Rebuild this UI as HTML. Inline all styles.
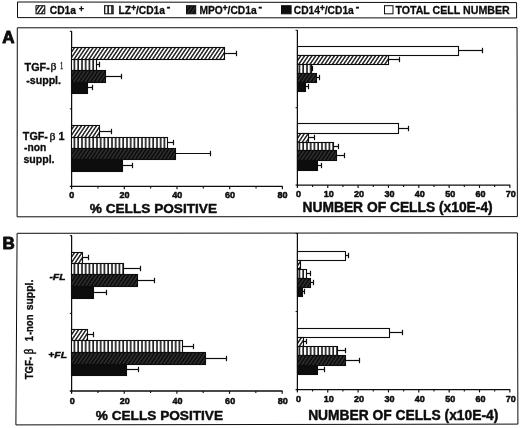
<!DOCTYPE html>
<html><head><meta charset="utf-8"><title>Figure</title>
<style>html,body{margin:0;padding:0;background:#fff}svg{display:block}</style>
</head><body>
<svg width="520" height="428" viewBox="0 0 520 428">
<defs>
<pattern id="hl" width="3.1" height="3.1" patternUnits="userSpaceOnUse" patternTransform="rotate(-56)"><rect width="3.1" height="3.1" fill="#fff"/><line x1="0" y1="1.55" x2="3.1" y2="1.55" stroke="#1c1c1c" stroke-width="1.45"/></pattern>
<pattern id="hd" width="3.1" height="3.1" patternUnits="userSpaceOnUse" patternTransform="rotate(-56)"><rect width="3.1" height="3.1" fill="#0d0d0d"/><line x1="0" y1="1.55" x2="3.1" y2="1.55" stroke="#6e6e6e" stroke-width="0.5"/></pattern>
<pattern id="vs" width="3.75" height="4" patternUnits="userSpaceOnUse" x="0.3"><rect width="3.75" height="4" fill="#fff"/><line x1="2.9" y1="0" x2="2.9" y2="4" stroke="#0a0a0a" stroke-width="1.55"/></pattern>
</defs>
<rect width="520" height="428" fill="#fff"/>
<polygon points="17.50,2.00 516.60,2.60 516.60,18.00 17.50,17.60" fill="none" stroke="#0d0d0d" stroke-width="1.0"/>
<rect x="36.00" y="5.70" width="8.80" height="8.10" fill="url(#hl)" stroke="#0d0d0d" stroke-width="1.0"/>
<text transform="translate(49.8,13.6) scale(0.95,1.0)" font-size="10.8" text-anchor="start" font-weight="bold" font-style="normal" font-family='"Liberation Sans", Arial, Helvetica, sans-serif' fill="#0d0d0d" stroke="#0d0d0d" stroke-width="0.3" stroke-linejoin="round" >CD1a<tspan dy="-1.9" dx="3.0" font-size="9.6">+</tspan></text>
<rect x="104.60" y="5.70" width="8.60" height="8.10" fill="url(#vs)" stroke="#0d0d0d" stroke-width="1.0"/>
<text transform="translate(118.6,13.6) scale(0.95,1.0)" font-size="10.8" text-anchor="start" font-weight="bold" font-style="normal" font-family='"Liberation Sans", Arial, Helvetica, sans-serif' fill="#0d0d0d" stroke="#0d0d0d" stroke-width="0.3" stroke-linejoin="round" >LZ<tspan dy="-3.0" font-size="8.6" stroke-width="0.5">+</tspan><tspan dy="3.0">/CD1a</tspan><tspan dy="-3.6" dx="2.0" font-size="11" stroke-width="0.5">-</tspan></text>
<rect x="186.50" y="5.70" width="9.20" height="8.10" fill="url(#hd)" stroke="#0d0d0d" stroke-width="1.0"/>
<text transform="translate(199.5,13.6) scale(0.95,1.0)" font-size="10.8" text-anchor="start" font-weight="bold" font-style="normal" font-family='"Liberation Sans", Arial, Helvetica, sans-serif' fill="#0d0d0d" stroke="#0d0d0d" stroke-width="0.3" stroke-linejoin="round" >MPO<tspan dy="-3.0" font-size="8.6" stroke-width="0.5">+</tspan><tspan dy="3.0">/CD1a</tspan><tspan dy="-3.6" dx="2.0" font-size="11" stroke-width="0.5">-</tspan></text>
<rect x="281.50" y="5.70" width="9.60" height="8.10" fill="#0d0d0d" stroke="#0d0d0d" stroke-width="1.0"/>
<text transform="translate(293.8,13.6) scale(0.95,1.0)" font-size="10.8" text-anchor="start" font-weight="bold" font-style="normal" font-family='"Liberation Sans", Arial, Helvetica, sans-serif' fill="#0d0d0d" stroke="#0d0d0d" stroke-width="0.3" stroke-linejoin="round" >CD14<tspan dy="-3.0" font-size="8.6" stroke-width="0.5">+</tspan><tspan dy="3.0">/CD1a</tspan><tspan dy="-3.6" dx="2.0" font-size="11" stroke-width="0.5">-</tspan></text>
<rect x="384.50" y="5.70" width="8.50" height="8.10" fill="#fff" stroke="#0d0d0d" stroke-width="1.0"/>
<text transform="translate(395.4,13.6) scale(0.985,1.0)" font-size="10.8" text-anchor="start" font-weight="bold" font-style="normal" font-family='"Liberation Sans", Arial, Helvetica, sans-serif' fill="#0d0d0d" stroke="#0d0d0d" stroke-width="0.3" stroke-linejoin="round" >TOTAL CELL NUMBER</text>
<polygon points="17.30,27.80 517.00,27.60 517.40,216.60 17.10,216.80" fill="none" stroke="#0d0d0d" stroke-width="1.0"/>
<text transform="translate(8.4,42.8) scale(1.0,1.0)" font-size="17" text-anchor="middle" font-weight="bold" font-style="normal" font-family='"Liberation Sans", Arial, Helvetica, sans-serif' fill="#0d0d0d" stroke="#0d0d0d" stroke-width="0.9" stroke-linejoin="round" >A</text>
<line x1="71.60" y1="31.30" x2="71.60" y2="189.20" stroke="#0d0d0d" stroke-width="1.25"/>
<line x1="69.80" y1="186.40" x2="282.80" y2="186.40" stroke="#0d0d0d" stroke-width="1.3"/>
<text transform="translate(71.8,198.4) scale(1.0,1.0)" font-size="9.0" text-anchor="middle" font-weight="bold" font-style="normal" font-family='"Liberation Sans", Arial, Helvetica, sans-serif' fill="#0d0d0d" stroke="#0d0d0d" stroke-width="0.5" stroke-linejoin="round" >0</text>
<line x1="97.95" y1="186.40" x2="97.95" y2="188.40" stroke="#0d0d0d" stroke-width="1.1"/>
<line x1="124.30" y1="186.40" x2="124.30" y2="189.20" stroke="#0d0d0d" stroke-width="1.15"/>
<text transform="translate(124.49999999999999,198.4) scale(1.0,1.0)" font-size="9.0" text-anchor="middle" font-weight="bold" font-style="normal" font-family='"Liberation Sans", Arial, Helvetica, sans-serif' fill="#0d0d0d" stroke="#0d0d0d" stroke-width="0.5" stroke-linejoin="round" >20</text>
<line x1="150.65" y1="186.40" x2="150.65" y2="188.40" stroke="#0d0d0d" stroke-width="1.1"/>
<line x1="177.00" y1="186.40" x2="177.00" y2="189.20" stroke="#0d0d0d" stroke-width="1.15"/>
<text transform="translate(177.2,198.4) scale(1.0,1.0)" font-size="9.0" text-anchor="middle" font-weight="bold" font-style="normal" font-family='"Liberation Sans", Arial, Helvetica, sans-serif' fill="#0d0d0d" stroke="#0d0d0d" stroke-width="0.5" stroke-linejoin="round" >40</text>
<line x1="203.35" y1="186.40" x2="203.35" y2="188.40" stroke="#0d0d0d" stroke-width="1.1"/>
<line x1="229.70" y1="186.40" x2="229.70" y2="189.20" stroke="#0d0d0d" stroke-width="1.15"/>
<text transform="translate(229.89999999999998,198.4) scale(1.0,1.0)" font-size="9.0" text-anchor="middle" font-weight="bold" font-style="normal" font-family='"Liberation Sans", Arial, Helvetica, sans-serif' fill="#0d0d0d" stroke="#0d0d0d" stroke-width="0.5" stroke-linejoin="round" >60</text>
<line x1="256.05" y1="186.40" x2="256.05" y2="188.40" stroke="#0d0d0d" stroke-width="1.1"/>
<line x1="282.40" y1="186.40" x2="282.40" y2="189.20" stroke="#0d0d0d" stroke-width="1.15"/>
<text transform="translate(282.59999999999997,198.4) scale(1.0,1.0)" font-size="9.0" text-anchor="middle" font-weight="bold" font-style="normal" font-family='"Liberation Sans", Arial, Helvetica, sans-serif' fill="#0d0d0d" stroke="#0d0d0d" stroke-width="0.5" stroke-linejoin="round" >80</text>
<line x1="69.80" y1="108.85" x2="71.60" y2="108.85" stroke="#0d0d0d" stroke-width="1.0"/>
<line x1="69.80" y1="31.30" x2="72.00" y2="31.30" stroke="#0d0d0d" stroke-width="1.0"/>
<rect x="71.50" y="47.50" width="153.00" height="12.00" fill="url(#hl)" stroke="#0d0d0d" stroke-width="1.1"/>
<line x1="224.50" y1="53.50" x2="236.50" y2="53.50" stroke="#0d0d0d" stroke-width="1.2"/>
<line x1="236.50" y1="50.80" x2="236.50" y2="56.20" stroke="#0d0d0d" stroke-width="1.2"/>
<rect x="71.50" y="59.50" width="25.00" height="11.00" fill="url(#vs)" stroke="#0d0d0d" stroke-width="1.1"/>
<line x1="96.50" y1="64.50" x2="99.50" y2="64.50" stroke="#0d0d0d" stroke-width="1.2"/>
<line x1="99.50" y1="61.80" x2="99.50" y2="67.20" stroke="#0d0d0d" stroke-width="1.2"/>
<rect x="71.50" y="70.50" width="34.00" height="12.00" fill="url(#hd)" stroke="#0d0d0d" stroke-width="1.1"/>
<line x1="105.50" y1="76.50" x2="121.50" y2="76.50" stroke="#0d0d0d" stroke-width="1.2"/>
<line x1="121.50" y1="73.80" x2="121.50" y2="79.20" stroke="#0d0d0d" stroke-width="1.2"/>
<rect x="71.50" y="82.50" width="16.00" height="11.00" fill="#0d0d0d" stroke="#0d0d0d" stroke-width="1.1"/>
<line x1="87.50" y1="87.50" x2="92.50" y2="87.50" stroke="#0d0d0d" stroke-width="1.2"/>
<line x1="92.50" y1="84.80" x2="92.50" y2="90.20" stroke="#0d0d0d" stroke-width="1.2"/>
<rect x="71.50" y="125.50" width="28.00" height="12.00" fill="url(#hl)" stroke="#0d0d0d" stroke-width="1.1"/>
<line x1="99.50" y1="131.50" x2="111.50" y2="131.50" stroke="#0d0d0d" stroke-width="1.2"/>
<line x1="111.50" y1="128.80" x2="111.50" y2="134.20" stroke="#0d0d0d" stroke-width="1.2"/>
<rect x="71.50" y="137.50" width="96.00" height="11.00" fill="url(#vs)" stroke="#0d0d0d" stroke-width="1.1"/>
<line x1="167.50" y1="142.50" x2="173.50" y2="142.50" stroke="#0d0d0d" stroke-width="1.2"/>
<line x1="173.50" y1="139.80" x2="173.50" y2="145.20" stroke="#0d0d0d" stroke-width="1.2"/>
<rect x="71.50" y="148.50" width="104.00" height="11.00" fill="url(#hd)" stroke="#0d0d0d" stroke-width="1.1"/>
<line x1="175.50" y1="153.50" x2="210.50" y2="153.50" stroke="#0d0d0d" stroke-width="1.2"/>
<line x1="210.50" y1="150.80" x2="210.50" y2="156.20" stroke="#0d0d0d" stroke-width="1.2"/>
<rect x="71.50" y="159.50" width="51.00" height="12.00" fill="#0d0d0d" stroke="#0d0d0d" stroke-width="1.1"/>
<line x1="122.50" y1="165.50" x2="132.50" y2="165.50" stroke="#0d0d0d" stroke-width="1.2"/>
<line x1="132.50" y1="162.80" x2="132.50" y2="168.20" stroke="#0d0d0d" stroke-width="1.2"/>
<text transform="translate(153.4,212.6) scale(1.0,1.0)" font-size="13.65" text-anchor="middle" font-weight="bold" font-style="normal" font-family='"Liberation Sans", Arial, Helvetica, sans-serif' fill="#0d0d0d" stroke="#0d0d0d" stroke-width="0.45" stroke-linejoin="round" >% CELLS POSITIVE</text>
<line x1="297.40" y1="30.30" x2="297.40" y2="187.90" stroke="#0d0d0d" stroke-width="1.25"/>
<line x1="295.60" y1="185.10" x2="510.25" y2="185.10" stroke="#0d0d0d" stroke-width="1.3"/>
<text transform="translate(298.4,196.79999999999998) scale(1.0,1.0)" font-size="9.0" text-anchor="middle" font-weight="bold" font-style="normal" font-family='"Liberation Sans", Arial, Helvetica, sans-serif' fill="#0d0d0d" stroke="#0d0d0d" stroke-width="0.5" stroke-linejoin="round" >0</text>
<line x1="312.57" y1="185.10" x2="312.57" y2="187.10" stroke="#0d0d0d" stroke-width="1.1"/>
<line x1="327.75" y1="185.10" x2="327.75" y2="187.90" stroke="#0d0d0d" stroke-width="1.15"/>
<text transform="translate(328.75,196.79999999999998) scale(1.0,1.0)" font-size="9.0" text-anchor="middle" font-weight="bold" font-style="normal" font-family='"Liberation Sans", Arial, Helvetica, sans-serif' fill="#0d0d0d" stroke="#0d0d0d" stroke-width="0.5" stroke-linejoin="round" >10</text>
<line x1="342.92" y1="185.10" x2="342.92" y2="187.10" stroke="#0d0d0d" stroke-width="1.1"/>
<line x1="358.10" y1="185.10" x2="358.10" y2="187.90" stroke="#0d0d0d" stroke-width="1.15"/>
<text transform="translate(359.09999999999997,196.79999999999998) scale(1.0,1.0)" font-size="9.0" text-anchor="middle" font-weight="bold" font-style="normal" font-family='"Liberation Sans", Arial, Helvetica, sans-serif' fill="#0d0d0d" stroke="#0d0d0d" stroke-width="0.5" stroke-linejoin="round" >20</text>
<line x1="373.27" y1="185.10" x2="373.27" y2="187.10" stroke="#0d0d0d" stroke-width="1.1"/>
<line x1="388.45" y1="185.10" x2="388.45" y2="187.90" stroke="#0d0d0d" stroke-width="1.15"/>
<text transform="translate(389.45,196.79999999999998) scale(1.0,1.0)" font-size="9.0" text-anchor="middle" font-weight="bold" font-style="normal" font-family='"Liberation Sans", Arial, Helvetica, sans-serif' fill="#0d0d0d" stroke="#0d0d0d" stroke-width="0.5" stroke-linejoin="round" >30</text>
<line x1="403.62" y1="185.10" x2="403.62" y2="187.10" stroke="#0d0d0d" stroke-width="1.1"/>
<line x1="418.80" y1="185.10" x2="418.80" y2="187.90" stroke="#0d0d0d" stroke-width="1.15"/>
<text transform="translate(419.79999999999995,196.79999999999998) scale(1.0,1.0)" font-size="9.0" text-anchor="middle" font-weight="bold" font-style="normal" font-family='"Liberation Sans", Arial, Helvetica, sans-serif' fill="#0d0d0d" stroke="#0d0d0d" stroke-width="0.5" stroke-linejoin="round" >40</text>
<line x1="433.98" y1="185.10" x2="433.98" y2="187.10" stroke="#0d0d0d" stroke-width="1.1"/>
<line x1="449.15" y1="185.10" x2="449.15" y2="187.90" stroke="#0d0d0d" stroke-width="1.15"/>
<text transform="translate(450.15,196.79999999999998) scale(1.0,1.0)" font-size="9.0" text-anchor="middle" font-weight="bold" font-style="normal" font-family='"Liberation Sans", Arial, Helvetica, sans-serif' fill="#0d0d0d" stroke="#0d0d0d" stroke-width="0.5" stroke-linejoin="round" >50</text>
<line x1="464.32" y1="185.10" x2="464.32" y2="187.10" stroke="#0d0d0d" stroke-width="1.1"/>
<line x1="479.50" y1="185.10" x2="479.50" y2="187.90" stroke="#0d0d0d" stroke-width="1.15"/>
<text transform="translate(480.5,196.79999999999998) scale(1.0,1.0)" font-size="9.0" text-anchor="middle" font-weight="bold" font-style="normal" font-family='"Liberation Sans", Arial, Helvetica, sans-serif' fill="#0d0d0d" stroke="#0d0d0d" stroke-width="0.5" stroke-linejoin="round" >60</text>
<line x1="494.67" y1="185.10" x2="494.67" y2="187.10" stroke="#0d0d0d" stroke-width="1.1"/>
<line x1="509.85" y1="185.10" x2="509.85" y2="187.90" stroke="#0d0d0d" stroke-width="1.15"/>
<text transform="translate(510.85,196.79999999999998) scale(1.0,1.0)" font-size="9.0" text-anchor="middle" font-weight="bold" font-style="normal" font-family='"Liberation Sans", Arial, Helvetica, sans-serif' fill="#0d0d0d" stroke="#0d0d0d" stroke-width="0.5" stroke-linejoin="round" >70</text>
<line x1="295.60" y1="107.70" x2="297.40" y2="107.70" stroke="#0d0d0d" stroke-width="1.0"/>
<line x1="295.60" y1="30.30" x2="297.80" y2="30.30" stroke="#0d0d0d" stroke-width="1.0"/>
<rect x="297.50" y="46.50" width="161.00" height="9.00" fill="#fff" stroke="#0d0d0d" stroke-width="1.1"/>
<line x1="458.50" y1="50.50" x2="482.50" y2="50.50" stroke="#0d0d0d" stroke-width="1.2"/>
<line x1="482.50" y1="47.80" x2="482.50" y2="53.20" stroke="#0d0d0d" stroke-width="1.2"/>
<rect x="297.50" y="55.50" width="91.00" height="9.00" fill="url(#hl)" stroke="#0d0d0d" stroke-width="1.1"/>
<line x1="388.50" y1="59.50" x2="399.50" y2="59.50" stroke="#0d0d0d" stroke-width="1.2"/>
<line x1="399.50" y1="56.80" x2="399.50" y2="62.20" stroke="#0d0d0d" stroke-width="1.2"/>
<rect x="297.50" y="64.50" width="14.00" height="9.00" fill="url(#vs)" stroke="#0d0d0d" stroke-width="1.1"/>
<line x1="311.50" y1="68.50" x2="312.50" y2="68.50" stroke="#0d0d0d" stroke-width="1.2"/>
<line x1="312.50" y1="65.80" x2="312.50" y2="71.20" stroke="#0d0d0d" stroke-width="1.2"/>
<rect x="297.50" y="73.50" width="19.00" height="9.00" fill="url(#hd)" stroke="#0d0d0d" stroke-width="1.1"/>
<line x1="316.50" y1="77.50" x2="319.50" y2="77.50" stroke="#0d0d0d" stroke-width="1.2"/>
<line x1="319.50" y1="74.80" x2="319.50" y2="80.20" stroke="#0d0d0d" stroke-width="1.2"/>
<rect x="297.50" y="82.50" width="8.00" height="9.00" fill="#0d0d0d" stroke="#0d0d0d" stroke-width="1.1"/>
<line x1="305.50" y1="86.50" x2="308.50" y2="86.50" stroke="#0d0d0d" stroke-width="1.2"/>
<line x1="308.50" y1="83.80" x2="308.50" y2="89.20" stroke="#0d0d0d" stroke-width="1.2"/>
<rect x="297.50" y="123.50" width="101.00" height="10.00" fill="#fff" stroke="#0d0d0d" stroke-width="1.1"/>
<line x1="398.50" y1="128.50" x2="408.50" y2="128.50" stroke="#0d0d0d" stroke-width="1.2"/>
<line x1="408.50" y1="125.80" x2="408.50" y2="131.20" stroke="#0d0d0d" stroke-width="1.2"/>
<rect x="297.50" y="133.50" width="11.00" height="9.00" fill="url(#hl)" stroke="#0d0d0d" stroke-width="1.1"/>
<line x1="308.50" y1="137.50" x2="314.50" y2="137.50" stroke="#0d0d0d" stroke-width="1.2"/>
<line x1="314.50" y1="134.80" x2="314.50" y2="140.20" stroke="#0d0d0d" stroke-width="1.2"/>
<rect x="297.50" y="142.50" width="36.00" height="8.00" fill="url(#vs)" stroke="#0d0d0d" stroke-width="1.1"/>
<line x1="333.50" y1="146.50" x2="338.50" y2="146.50" stroke="#0d0d0d" stroke-width="1.2"/>
<line x1="338.50" y1="143.80" x2="338.50" y2="149.20" stroke="#0d0d0d" stroke-width="1.2"/>
<rect x="297.50" y="150.50" width="39.00" height="10.00" fill="url(#hd)" stroke="#0d0d0d" stroke-width="1.1"/>
<line x1="336.50" y1="155.50" x2="344.50" y2="155.50" stroke="#0d0d0d" stroke-width="1.2"/>
<line x1="344.50" y1="152.80" x2="344.50" y2="158.20" stroke="#0d0d0d" stroke-width="1.2"/>
<rect x="297.50" y="160.50" width="20.00" height="10.00" fill="#0d0d0d" stroke="#0d0d0d" stroke-width="1.1"/>
<line x1="317.50" y1="165.50" x2="321.50" y2="165.50" stroke="#0d0d0d" stroke-width="1.2"/>
<line x1="321.50" y1="162.80" x2="321.50" y2="168.20" stroke="#0d0d0d" stroke-width="1.2"/>
<text transform="translate(397.6,212.4) scale(1.0,1.0)" font-size="13.8" text-anchor="middle" font-weight="bold" font-style="normal" font-family='"Liberation Sans", Arial, Helvetica, sans-serif' fill="#0d0d0d" stroke="#0d0d0d" stroke-width="0.45" stroke-linejoin="round" >NUMBER OF CELLS (x10E-4)</text>
<text transform="translate(24.6,70.8) scale(1.08,1.0)" font-size="10.0" text-anchor="start" font-weight="bold" font-style="normal" font-family='"Liberation Sans", Arial, Helvetica, sans-serif' fill="#0d0d0d" stroke="#0d0d0d" stroke-width="0.3" stroke-linejoin="round" >TGF-</text>
<text transform="translate(50.4,70.3) scale(1.2,1.0)" font-size="9.8" text-anchor="start" font-weight="normal" font-style="normal" font-family='"Liberation Serif", "DejaVu Serif", serif' fill="#0d0d0d" stroke="#0d0d0d" stroke-width="0.3" stroke-linejoin="round" >β</text>
<text transform="translate(60.3,68.8) scale(0.55,1.0)" font-size="10.2" text-anchor="start" font-weight="normal" font-style="normal" font-family='"Liberation Serif", "DejaVu Serif", serif' fill="#0d0d0d" stroke="#0d0d0d" stroke-width="0.45" stroke-linejoin="round" >1</text>
<text transform="translate(26.2,83.8) scale(1.0638,1.0)" font-size="10.0" text-anchor="start" font-weight="bold" font-style="normal" font-family='"Liberation Sans", Arial, Helvetica, sans-serif' fill="#0d0d0d" stroke="#0d0d0d" stroke-width="0.3" stroke-linejoin="round" >-suppl.</text>
<text transform="translate(22.8,140.3) scale(1.08,1.0)" font-size="10.0" text-anchor="start" font-weight="bold" font-style="normal" font-family='"Liberation Sans", Arial, Helvetica, sans-serif' fill="#0d0d0d" stroke="#0d0d0d" stroke-width="0.3" stroke-linejoin="round" >TGF-</text>
<text transform="translate(49.6,139.8) scale(1.2,1.0)" font-size="9.8" text-anchor="start" font-weight="normal" font-style="normal" font-family='"Liberation Serif", "DejaVu Serif", serif' fill="#0d0d0d" stroke="#0d0d0d" stroke-width="0.3" stroke-linejoin="round" >β</text>
<text transform="translate(58.4,140.3) scale(1.05,1.0)" font-size="10.4" text-anchor="start" font-weight="bold" font-style="normal" font-family='"Liberation Sans", Arial, Helvetica, sans-serif' fill="#0d0d0d" stroke="#0d0d0d" stroke-width="0.3" stroke-linejoin="round" >1</text>
<text transform="translate(24,151) scale(1.026,1.0)" font-size="10.0" text-anchor="start" font-weight="bold" font-style="normal" font-family='"Liberation Sans", Arial, Helvetica, sans-serif' fill="#0d0d0d" stroke="#0d0d0d" stroke-width="0.3" stroke-linejoin="round" >-non</text>
<text transform="translate(23.4,163.3) scale(1.0584,1.0)" font-size="10.0" text-anchor="start" font-weight="bold" font-style="normal" font-family='"Liberation Sans", Arial, Helvetica, sans-serif' fill="#0d0d0d" stroke="#0d0d0d" stroke-width="0.3" stroke-linejoin="round" >suppl.</text>
<polygon points="17.10,233.30 517.40,232.90 517.90,424.10 15.90,424.90" fill="none" stroke="#0d0d0d" stroke-width="1.0"/>
<text transform="translate(8.6,248.7) scale(1.0,1.0)" font-size="17" text-anchor="middle" font-weight="bold" font-style="normal" font-family='"Liberation Sans", Arial, Helvetica, sans-serif' fill="#0d0d0d" stroke="#0d0d0d" stroke-width="0.9" stroke-linejoin="round" >B</text>
<line x1="71.60" y1="235.70" x2="71.60" y2="393.80" stroke="#0d0d0d" stroke-width="1.25"/>
<line x1="69.80" y1="391.00" x2="282.56" y2="391.00" stroke="#0d0d0d" stroke-width="1.3"/>
<text transform="translate(72.19999999999999,403.8) scale(1.0,1.0)" font-size="9.0" text-anchor="middle" font-weight="bold" font-style="normal" font-family='"Liberation Sans", Arial, Helvetica, sans-serif' fill="#0d0d0d" stroke="#0d0d0d" stroke-width="0.5" stroke-linejoin="round" >0</text>
<line x1="97.92" y1="391.00" x2="97.92" y2="393.00" stroke="#0d0d0d" stroke-width="1.1"/>
<line x1="124.24" y1="391.00" x2="124.24" y2="393.80" stroke="#0d0d0d" stroke-width="1.15"/>
<text transform="translate(124.83999999999999,403.8) scale(1.0,1.0)" font-size="9.0" text-anchor="middle" font-weight="bold" font-style="normal" font-family='"Liberation Sans", Arial, Helvetica, sans-serif' fill="#0d0d0d" stroke="#0d0d0d" stroke-width="0.5" stroke-linejoin="round" >20</text>
<line x1="150.56" y1="391.00" x2="150.56" y2="393.00" stroke="#0d0d0d" stroke-width="1.1"/>
<line x1="176.88" y1="391.00" x2="176.88" y2="393.80" stroke="#0d0d0d" stroke-width="1.15"/>
<text transform="translate(177.48,403.8) scale(1.0,1.0)" font-size="9.0" text-anchor="middle" font-weight="bold" font-style="normal" font-family='"Liberation Sans", Arial, Helvetica, sans-serif' fill="#0d0d0d" stroke="#0d0d0d" stroke-width="0.5" stroke-linejoin="round" >40</text>
<line x1="203.20" y1="391.00" x2="203.20" y2="393.00" stroke="#0d0d0d" stroke-width="1.1"/>
<line x1="229.52" y1="391.00" x2="229.52" y2="393.80" stroke="#0d0d0d" stroke-width="1.15"/>
<text transform="translate(230.12,403.8) scale(1.0,1.0)" font-size="9.0" text-anchor="middle" font-weight="bold" font-style="normal" font-family='"Liberation Sans", Arial, Helvetica, sans-serif' fill="#0d0d0d" stroke="#0d0d0d" stroke-width="0.5" stroke-linejoin="round" >60</text>
<line x1="255.84" y1="391.00" x2="255.84" y2="393.00" stroke="#0d0d0d" stroke-width="1.1"/>
<line x1="282.16" y1="391.00" x2="282.16" y2="393.80" stroke="#0d0d0d" stroke-width="1.15"/>
<text transform="translate(282.76,403.8) scale(1.0,1.0)" font-size="9.0" text-anchor="middle" font-weight="bold" font-style="normal" font-family='"Liberation Sans", Arial, Helvetica, sans-serif' fill="#0d0d0d" stroke="#0d0d0d" stroke-width="0.5" stroke-linejoin="round" >80</text>
<line x1="69.80" y1="313.35" x2="71.60" y2="313.35" stroke="#0d0d0d" stroke-width="1.0"/>
<line x1="69.80" y1="235.70" x2="72.00" y2="235.70" stroke="#0d0d0d" stroke-width="1.0"/>
<rect x="71.50" y="252.50" width="11.00" height="11.00" fill="url(#hl)" stroke="#0d0d0d" stroke-width="1.1"/>
<line x1="82.50" y1="257.50" x2="88.50" y2="257.50" stroke="#0d0d0d" stroke-width="1.2"/>
<line x1="88.50" y1="254.80" x2="88.50" y2="260.20" stroke="#0d0d0d" stroke-width="1.2"/>
<rect x="71.50" y="263.50" width="52.00" height="11.00" fill="url(#vs)" stroke="#0d0d0d" stroke-width="1.1"/>
<line x1="123.50" y1="268.50" x2="140.50" y2="268.50" stroke="#0d0d0d" stroke-width="1.2"/>
<line x1="140.50" y1="265.80" x2="140.50" y2="271.20" stroke="#0d0d0d" stroke-width="1.2"/>
<rect x="71.50" y="274.50" width="66.00" height="12.00" fill="url(#hd)" stroke="#0d0d0d" stroke-width="1.1"/>
<line x1="137.50" y1="280.50" x2="154.50" y2="280.50" stroke="#0d0d0d" stroke-width="1.2"/>
<line x1="154.50" y1="277.80" x2="154.50" y2="283.20" stroke="#0d0d0d" stroke-width="1.2"/>
<rect x="71.50" y="286.50" width="22.00" height="12.00" fill="#0d0d0d" stroke="#0d0d0d" stroke-width="1.1"/>
<line x1="93.50" y1="292.50" x2="106.50" y2="292.50" stroke="#0d0d0d" stroke-width="1.2"/>
<line x1="106.50" y1="289.80" x2="106.50" y2="295.20" stroke="#0d0d0d" stroke-width="1.2"/>
<rect x="71.50" y="329.50" width="16.00" height="11.00" fill="url(#hl)" stroke="#0d0d0d" stroke-width="1.1"/>
<line x1="87.50" y1="334.50" x2="93.50" y2="334.50" stroke="#0d0d0d" stroke-width="1.2"/>
<line x1="93.50" y1="331.80" x2="93.50" y2="337.20" stroke="#0d0d0d" stroke-width="1.2"/>
<rect x="71.50" y="340.50" width="111.00" height="12.00" fill="url(#vs)" stroke="#0d0d0d" stroke-width="1.1"/>
<line x1="182.50" y1="346.50" x2="193.50" y2="346.50" stroke="#0d0d0d" stroke-width="1.2"/>
<line x1="193.50" y1="343.80" x2="193.50" y2="349.20" stroke="#0d0d0d" stroke-width="1.2"/>
<rect x="71.50" y="352.50" width="134.00" height="12.00" fill="url(#hd)" stroke="#0d0d0d" stroke-width="1.1"/>
<line x1="205.50" y1="358.50" x2="226.50" y2="358.50" stroke="#0d0d0d" stroke-width="1.2"/>
<line x1="226.50" y1="355.80" x2="226.50" y2="361.20" stroke="#0d0d0d" stroke-width="1.2"/>
<rect x="71.50" y="364.50" width="55.00" height="11.00" fill="#0d0d0d" stroke="#0d0d0d" stroke-width="1.1"/>
<line x1="126.50" y1="369.50" x2="138.50" y2="369.50" stroke="#0d0d0d" stroke-width="1.2"/>
<line x1="138.50" y1="366.80" x2="138.50" y2="372.20" stroke="#0d0d0d" stroke-width="1.2"/>
<text transform="translate(159.4,420.3) scale(1.0,1.0)" font-size="13.65" text-anchor="middle" font-weight="bold" font-style="normal" font-family='"Liberation Sans", Arial, Helvetica, sans-serif' fill="#0d0d0d" stroke="#0d0d0d" stroke-width="0.45" stroke-linejoin="round" >% CELLS POSITIVE</text>
<line x1="297.40" y1="233.50" x2="297.40" y2="392.40" stroke="#0d0d0d" stroke-width="1.25"/>
<line x1="295.60" y1="389.60" x2="510.25" y2="389.60" stroke="#0d0d0d" stroke-width="1.3"/>
<text transform="translate(298.4,401.6) scale(1.0,1.0)" font-size="9.0" text-anchor="middle" font-weight="bold" font-style="normal" font-family='"Liberation Sans", Arial, Helvetica, sans-serif' fill="#0d0d0d" stroke="#0d0d0d" stroke-width="0.5" stroke-linejoin="round" >0</text>
<line x1="312.57" y1="389.60" x2="312.57" y2="391.60" stroke="#0d0d0d" stroke-width="1.1"/>
<line x1="327.75" y1="389.60" x2="327.75" y2="392.40" stroke="#0d0d0d" stroke-width="1.15"/>
<text transform="translate(328.75,401.6) scale(1.0,1.0)" font-size="9.0" text-anchor="middle" font-weight="bold" font-style="normal" font-family='"Liberation Sans", Arial, Helvetica, sans-serif' fill="#0d0d0d" stroke="#0d0d0d" stroke-width="0.5" stroke-linejoin="round" >10</text>
<line x1="342.92" y1="389.60" x2="342.92" y2="391.60" stroke="#0d0d0d" stroke-width="1.1"/>
<line x1="358.10" y1="389.60" x2="358.10" y2="392.40" stroke="#0d0d0d" stroke-width="1.15"/>
<text transform="translate(359.09999999999997,401.6) scale(1.0,1.0)" font-size="9.0" text-anchor="middle" font-weight="bold" font-style="normal" font-family='"Liberation Sans", Arial, Helvetica, sans-serif' fill="#0d0d0d" stroke="#0d0d0d" stroke-width="0.5" stroke-linejoin="round" >20</text>
<line x1="373.27" y1="389.60" x2="373.27" y2="391.60" stroke="#0d0d0d" stroke-width="1.1"/>
<line x1="388.45" y1="389.60" x2="388.45" y2="392.40" stroke="#0d0d0d" stroke-width="1.15"/>
<text transform="translate(389.45,401.6) scale(1.0,1.0)" font-size="9.0" text-anchor="middle" font-weight="bold" font-style="normal" font-family='"Liberation Sans", Arial, Helvetica, sans-serif' fill="#0d0d0d" stroke="#0d0d0d" stroke-width="0.5" stroke-linejoin="round" >30</text>
<line x1="403.62" y1="389.60" x2="403.62" y2="391.60" stroke="#0d0d0d" stroke-width="1.1"/>
<line x1="418.80" y1="389.60" x2="418.80" y2="392.40" stroke="#0d0d0d" stroke-width="1.15"/>
<text transform="translate(419.79999999999995,401.6) scale(1.0,1.0)" font-size="9.0" text-anchor="middle" font-weight="bold" font-style="normal" font-family='"Liberation Sans", Arial, Helvetica, sans-serif' fill="#0d0d0d" stroke="#0d0d0d" stroke-width="0.5" stroke-linejoin="round" >40</text>
<line x1="433.98" y1="389.60" x2="433.98" y2="391.60" stroke="#0d0d0d" stroke-width="1.1"/>
<line x1="449.15" y1="389.60" x2="449.15" y2="392.40" stroke="#0d0d0d" stroke-width="1.15"/>
<text transform="translate(450.15,401.6) scale(1.0,1.0)" font-size="9.0" text-anchor="middle" font-weight="bold" font-style="normal" font-family='"Liberation Sans", Arial, Helvetica, sans-serif' fill="#0d0d0d" stroke="#0d0d0d" stroke-width="0.5" stroke-linejoin="round" >50</text>
<line x1="464.32" y1="389.60" x2="464.32" y2="391.60" stroke="#0d0d0d" stroke-width="1.1"/>
<line x1="479.50" y1="389.60" x2="479.50" y2="392.40" stroke="#0d0d0d" stroke-width="1.15"/>
<text transform="translate(480.5,401.6) scale(1.0,1.0)" font-size="9.0" text-anchor="middle" font-weight="bold" font-style="normal" font-family='"Liberation Sans", Arial, Helvetica, sans-serif' fill="#0d0d0d" stroke="#0d0d0d" stroke-width="0.5" stroke-linejoin="round" >60</text>
<line x1="494.67" y1="389.60" x2="494.67" y2="391.60" stroke="#0d0d0d" stroke-width="1.1"/>
<line x1="509.85" y1="389.60" x2="509.85" y2="392.40" stroke="#0d0d0d" stroke-width="1.15"/>
<text transform="translate(510.85,401.6) scale(1.0,1.0)" font-size="9.0" text-anchor="middle" font-weight="bold" font-style="normal" font-family='"Liberation Sans", Arial, Helvetica, sans-serif' fill="#0d0d0d" stroke="#0d0d0d" stroke-width="0.5" stroke-linejoin="round" >70</text>
<line x1="295.60" y1="311.55" x2="297.40" y2="311.55" stroke="#0d0d0d" stroke-width="1.0"/>
<line x1="295.60" y1="233.50" x2="297.80" y2="233.50" stroke="#0d0d0d" stroke-width="1.0"/>
<rect x="297.50" y="251.50" width="48.00" height="9.00" fill="#fff" stroke="#0d0d0d" stroke-width="1.1"/>
<line x1="345.50" y1="255.50" x2="348.50" y2="255.50" stroke="#0d0d0d" stroke-width="1.2"/>
<line x1="348.50" y1="252.80" x2="348.50" y2="258.20" stroke="#0d0d0d" stroke-width="1.2"/>
<rect x="297.50" y="260.50" width="3.00" height="8.00" fill="url(#hl)" stroke="#0d0d0d" stroke-width="1.1"/>
<rect x="297.50" y="269.50" width="9.00" height="9.00" fill="url(#vs)" stroke="#0d0d0d" stroke-width="1.1"/>
<line x1="306.50" y1="273.50" x2="310.50" y2="273.50" stroke="#0d0d0d" stroke-width="1.2"/>
<line x1="310.50" y1="270.80" x2="310.50" y2="276.20" stroke="#0d0d0d" stroke-width="1.2"/>
<rect x="297.50" y="278.50" width="13.00" height="9.00" fill="url(#hd)" stroke="#0d0d0d" stroke-width="1.1"/>
<line x1="310.50" y1="282.50" x2="313.50" y2="282.50" stroke="#0d0d0d" stroke-width="1.2"/>
<line x1="313.50" y1="279.80" x2="313.50" y2="285.20" stroke="#0d0d0d" stroke-width="1.2"/>
<rect x="297.50" y="287.50" width="5.00" height="9.00" fill="#0d0d0d" stroke="#0d0d0d" stroke-width="1.1"/>
<line x1="302.50" y1="291.50" x2="304.50" y2="291.50" stroke="#0d0d0d" stroke-width="1.2"/>
<line x1="304.50" y1="288.80" x2="304.50" y2="294.20" stroke="#0d0d0d" stroke-width="1.2"/>
<rect x="297.50" y="328.50" width="92.00" height="9.00" fill="#fff" stroke="#0d0d0d" stroke-width="1.1"/>
<line x1="389.50" y1="332.50" x2="402.50" y2="332.50" stroke="#0d0d0d" stroke-width="1.2"/>
<line x1="402.50" y1="329.80" x2="402.50" y2="335.20" stroke="#0d0d0d" stroke-width="1.2"/>
<rect x="297.50" y="337.50" width="6.00" height="9.00" fill="url(#hl)" stroke="#0d0d0d" stroke-width="1.1"/>
<line x1="303.50" y1="341.50" x2="306.50" y2="341.50" stroke="#0d0d0d" stroke-width="1.2"/>
<line x1="306.50" y1="338.80" x2="306.50" y2="344.20" stroke="#0d0d0d" stroke-width="1.2"/>
<rect x="297.50" y="346.50" width="40.00" height="9.00" fill="url(#vs)" stroke="#0d0d0d" stroke-width="1.1"/>
<line x1="337.50" y1="350.50" x2="345.50" y2="350.50" stroke="#0d0d0d" stroke-width="1.2"/>
<line x1="345.50" y1="347.80" x2="345.50" y2="353.20" stroke="#0d0d0d" stroke-width="1.2"/>
<rect x="297.50" y="355.50" width="48.00" height="10.00" fill="url(#hd)" stroke="#0d0d0d" stroke-width="1.1"/>
<line x1="345.50" y1="360.50" x2="359.50" y2="360.50" stroke="#0d0d0d" stroke-width="1.2"/>
<line x1="359.50" y1="357.80" x2="359.50" y2="363.20" stroke="#0d0d0d" stroke-width="1.2"/>
<rect x="297.50" y="365.50" width="20.00" height="9.00" fill="#0d0d0d" stroke="#0d0d0d" stroke-width="1.1"/>
<line x1="317.50" y1="369.50" x2="324.50" y2="369.50" stroke="#0d0d0d" stroke-width="1.2"/>
<line x1="324.50" y1="366.80" x2="324.50" y2="372.20" stroke="#0d0d0d" stroke-width="1.2"/>
<text transform="translate(403.2,420.0) scale(1.0,1.0)" font-size="13.8" text-anchor="middle" font-weight="bold" font-style="normal" font-family='"Liberation Sans", Arial, Helvetica, sans-serif' fill="#0d0d0d" stroke="#0d0d0d" stroke-width="0.45" stroke-linejoin="round" >NUMBER OF CELLS (x10E-4)</text>
<text transform="translate(49.4,279.9) scale(1.06,1.0)" font-size="9.8" text-anchor="start" font-weight="bold" font-style="italic" font-family='"Liberation Sans", Arial, Helvetica, sans-serif' fill="#0d0d0d" stroke="#0d0d0d" stroke-width="0.45" stroke-linejoin="round" >-FL</text>
<text transform="translate(48.3,357.6) scale(1.06,1.0)" font-size="9.8" text-anchor="start" font-weight="bold" font-style="italic" font-family='"Liberation Sans", Arial, Helvetica, sans-serif' fill="#0d0d0d" stroke="#0d0d0d" stroke-width="0.45" stroke-linejoin="round" >+FL</text>
<g transform="translate(33.0,379.3) rotate(-90)">
<text transform="translate(0,0) scale(1.0,1.15)" font-size="9.6" text-anchor="start" font-weight="bold" font-style="normal" font-family='"Liberation Sans", Arial, Helvetica, sans-serif' fill="#0d0d0d" stroke="#0d0d0d" stroke-width="0.3" stroke-linejoin="round" textLength="22.4" lengthAdjust="spacingAndGlyphs">TGF-</text>
<text transform="translate(25.0,-0.3) scale(1.08,1.3)" font-size="10.2" text-anchor="start" font-weight="normal" font-style="normal" font-family='"Liberation Serif", "DejaVu Serif", serif' fill="#0d0d0d" stroke="#0d0d0d" stroke-width="0.45" stroke-linejoin="round" >β</text>
<text transform="translate(38.0,0) scale(1.0,1.15)" font-size="9.6" text-anchor="start" font-weight="bold" font-style="normal" font-family='"Liberation Sans", Arial, Helvetica, sans-serif' fill="#0d0d0d" stroke="#0d0d0d" stroke-width="0.3" stroke-linejoin="round" >1</text>
<text transform="translate(44.2,0) scale(1.0,1.15)" font-size="9.6" text-anchor="start" font-weight="bold" font-style="normal" font-family='"Liberation Sans", Arial, Helvetica, sans-serif' fill="#0d0d0d" stroke="#0d0d0d" stroke-width="0.3" stroke-linejoin="round" textLength="20.6" lengthAdjust="spacingAndGlyphs">-non</text>
<text transform="translate(69.0,0) scale(1.0,1.15)" font-size="9.6" text-anchor="start" font-weight="bold" font-style="normal" font-family='"Liberation Sans", Arial, Helvetica, sans-serif' fill="#0d0d0d" stroke="#0d0d0d" stroke-width="0.3" stroke-linejoin="round" textLength="30.6" lengthAdjust="spacingAndGlyphs">suppl.</text>
</g>
</svg>
</body></html>
